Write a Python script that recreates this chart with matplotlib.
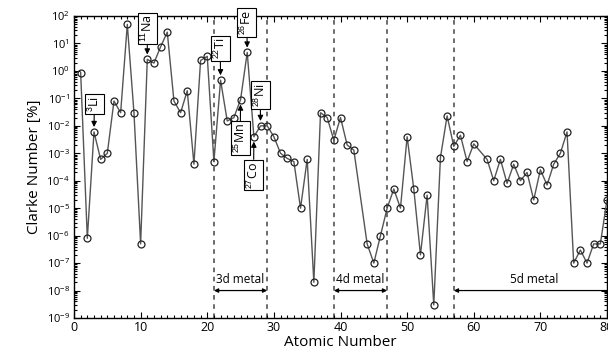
import numpy as np
import matplotlib
matplotlib.use('Agg')
import matplotlib.pyplot as plt
from matplotlib.ticker import MultipleLocator, LogLocator, NullFormatter

plt.rcParams['font.family'] = ['Open Sans', 'DejaVu Sans']
plt.rcParams['mathtext.fontset'] = 'custom'
plt.rcParams['mathtext.rm'] = 'Liberation Sans'
plt.rcParams['mathtext.it'] = 'Liberation Sans:italic'
plt.rcParams['mathtext.bf'] = 'Liberation Sans:bold'

# atomic numbers (Tc=43 and Pm=61 missing)
atomic_number = [1, 2, 3, 4, 5, 6, 7, 8, 9, 10,
                 11, 12, 13, 14, 15, 16, 17, 18, 19, 20,
                 21, 22, 23, 24, 25, 26, 27, 28, 29, 30,
                 31, 32, 33, 34, 35, 36, 37, 38, 39, 40,
                 41, 42, 44, 45, 46, 47, 48, 49, 50,
                 51, 52, 53, 54, 55, 56, 57, 58, 59, 60,
                 62, 63, 64, 65, 66, 67, 68, 69, 70,
                 71, 72, 73, 74, 75, 76, 77, 78, 79, 80]
clarke = [0.87, 8e-7, 6e-3, 6e-4, 1e-3, 0.08, 0.03, 49.5, 0.03, 5e-7,
          2.63, 1.93, 7.56, 25.8, 0.08, 0.03, 0.19, 4e-4, 2.4, 3.39,
          5e-4, 0.46, 0.015, 0.02, 0.09, 4.7, 4e-3, 0.01, 0.01, 4e-3,
          1e-3, 6.5e-4, 5e-4, 1e-5, 6e-4, 2e-8, 0.03, 0.02, 3e-3, 0.02,
          2e-3, 1.3e-3, 5e-7, 1e-7, 1e-6, 1e-5, 5e-5, 1e-5, 4e-3,
          5e-5, 2e-7, 3e-5, 3e-9, 7e-4, 0.023, 1.8e-3, 4.5e-3, 5e-4, 2.2e-3,
          6e-4, 1e-4, 6e-4, 8e-5, 4e-4, 1e-4, 2e-4, 2e-5, 2.5e-4,
          7e-5, 4e-4, 1e-3, 6e-3, 1e-7, 3e-7, 1e-7, 5e-7, 5e-7, 2e-5]

# labelled elements: label, Z, box centre x, box centre y
labels = ['$^{3}$Li', '$^{11}$Na', '$^{22}$Ti', '$^{26}$Fe',
          '$^{28}$Ni', '$^{25}$Mn', '$^{27}$Co']
label_z = [3, 11, 22, 26, 28, 25, 27]
label_box_x = [3.05, 11.0, 21.95, 25.95, 27.95, 24.95, 26.95]
label_box_y = [0.062, 35.0, 6.4, 58.0, 0.13, 0.0035, 1.6e-4]

# metal block boundaries
boundaries = [21, 29, 39, 47, 57]
blocks = ['3d metal', '4d metal', '5d metal']
block_start = [21, 39, 57]
block_end = [29, 47, 81]

fig = plt.figure(figsize=(6.08, 3.56), dpi=100)
ax = fig.add_axes([74 / 608, 1 - 318 / 356, 533 / 608, 302 / 356])

ax.plot(atomic_number, clarke, '-', color='#555555', lw=1.0,
        marker='o', ms=5, mfc='none', mec='#222222', mew=0.9, zorder=3)

for b in boundaries:
    ax.axvline(b, color='#444444', ls=(0, (3, 3)), lw=1.1, zorder=1)

for name, x0, x1 in zip(blocks, block_start, block_end):
    ax.annotate('', xy=(x0, 1e-8), xytext=(x1, 1e-8),
                arrowprops=dict(arrowstyle='<|-|>', color='black', lw=0.9,
                                mutation_scale=6, shrinkA=0, shrinkB=0),
                annotation_clip=False)
    xc = (x0 + x1) / 2
    ax.text(xc, 1.45e-8, name, ha='center', va='bottom', fontsize=8.5)

zmap = dict(zip(atomic_number, clarke))
for lab, z, bx, by in zip(labels, label_z, label_box_x, label_box_y):
    ax.annotate(lab, xy=(z, zmap[z]), xytext=(bx, by), rotation=90,
                ha='center', va='center', fontsize=9, zorder=5,
                bbox=dict(boxstyle='square,pad=0.15', fc='white', ec='black', lw=0.8),
                arrowprops=dict(arrowstyle='-|>', color='black', lw=0.8,
                                mutation_scale=8, shrinkA=0, shrinkB=3.5),
                annotation_clip=False)

ax.set_yscale('log')
ax.set_xlim(0, 80)
ax.set_ylim(1e-9, 1e2)
ax.xaxis.set_major_locator(MultipleLocator(10))
ax.xaxis.set_minor_locator(MultipleLocator(1))
ax.yaxis.set_major_locator(LogLocator(base=10, numticks=20))
ax.yaxis.set_minor_locator(LogLocator(base=10, subs=np.arange(2, 10), numticks=20))
ax.yaxis.set_minor_formatter(NullFormatter())
ax.tick_params(which='both', direction='in', top=True, right=True, width=0.8)
ax.tick_params(which='major', length=4)
ax.tick_params(which='minor', length=2.2)
ax.tick_params(axis='x', labelsize=9, pad=2)
ax.tick_params(axis='y', labelsize=8, pad=3)
for sp in ax.spines.values():
    sp.set_linewidth(1.0)

ax.set_xlabel('Atomic Number', fontsize=11, labelpad=1)
ax.set_ylabel('Clarke Number [%]', fontsize=11, labelpad=3)

fig.savefig('out.png', dpi=100)
